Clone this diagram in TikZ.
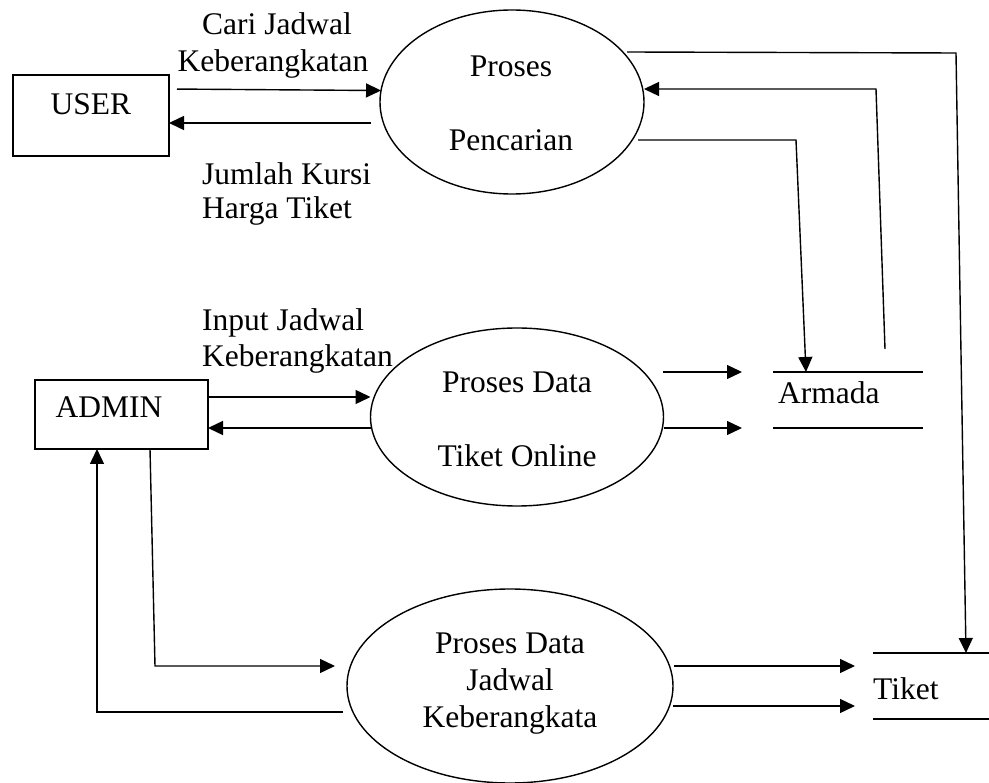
\documentclass[tikz,border=0pt]{standalone}
\usepackage{fontspec}
\setmainfont{Liberation Serif}
\usetikzlibrary{arrows.meta,shapes.geometric}
\begin{document}
\begin{tikzpicture}[x=1pt,y=-1pt,
  every node/.style={font=\fontsize{31.5}{37}\selectfont},
  ln/.style={line width=1.4pt},
  arr/.style={ln,-{Triangle[length=15pt,width=14pt]}},
  entity/.style={draw,line width=1.4pt,rectangle,inner sep=0pt,outer sep=0pt},
  proc/.style={draw,line width=1.4pt,ellipse,inner sep=0pt,outer sep=0pt},
  store/.style={rectangle,inner sep=0pt,outer sep=0pt},
  lbl/.style={inner sep=0pt,anchor=base},
  lblw/.style={inner sep=0pt,anchor=base west}]
\useasboundingbox (0,0) rectangle (989,783);

% external entities
\node[entity,minimum width=156pt,minimum height=81pt] (user) at (91,115.5) {};
\node[lbl] (usertxt) at (91,115) {USER};
\node[entity,minimum width=173pt,minimum height=69pt] (admin) at (121.5,414.5) {};
\node[lbl] (admintxt) at (109,418) {ADMIN};

% processes
\node[proc,minimum width=264pt,minimum height=184pt] (P) at (512,102) {};
\node[lbl] (p1) at (511,77) {Proses};
\node[lbl] (p2) at (511,151) {Pencarian};
\node[proc,minimum width=293pt,minimum height=178pt] (O) at (517,417) {};
\node[lbl] (o1) at (517,393) {Proses Data};
\node[lbl] (o2) at (517,467) {Tiket Online};
\node[proc,minimum width=326pt,minimum height=194pt] (J) at (510,686) {};
\node[lbl] (j1) at (510,653) {Proses Data};
\node[lbl] (j2) at (510,690) {Jadwal};
\node[lbl] (j3) at (510,727) {Keberangkata};

% data stores
\node[store,minimum width=150pt,minimum height=56pt] (armada) at (848,400) {};
\draw[ln] (armada.north west) -- (armada.north east) (armada.south west) -- (armada.south east);
\node[lblw] (armadatxt) at (778,404) {Armada};
\node[store,minimum width=116pt,minimum height=66pt] (tiket) at (931,686) {};
\draw[ln] (tiket.north west) -- (tiket.north east) (tiket.south west) -- (tiket.south east);
\node[lblw] (tikettxt) at (873,699) {Tiket};

% flow labels
\node[lbl] (la1) at (277,35) {Cari Jadwal};
\node[lbl] (la2) at (273,72) {Keberangkatan};
\node[lblw] (lb1) at (202,185) {Jumlah Kursi};
\node[lblw] (lb2) at (202,219) {Harga Tiket};
\node[lblw] (lc1) at (202,331) {Input Jadwal};
\node[lblw] (lc2) at (202,367) {Keberangkatan};

% flows
\draw[arr,shorten <=8pt] (user.east |- 0,89) -- (P.175);
\draw[arr] (371,123) -- (user.east |- 0,123);
\draw[arr] (627,52) -- (956,53) -- (966,0 |- tiket.north);
\draw[arr] (885,349) -- (876,89) -- (P.east |- 0,89);
\draw[arr] (638,140) -- (796,140) -- (806,0 |- armada.north);
\draw[arr] (663,372) -- (742,372);
\draw[arr] (O.east |- 0,428) -- (742,428);
\draw[arr] (admin.east |- 0,397) -- (O.west |- 0,397);
\draw[arr] (O.west |- 0,428) -- (admin.east |- 0,428);
\draw[arr] (150,0 |- admin.south) -- (155,666) -- (335,666);
\draw[arr] (343,712) -- (97,712) -- (97,0 |- admin.south);
\draw[arr] (674,666) -- (855,666);
\draw[arr] (J.east |- 0,706) -- (855,706);
\end{tikzpicture}
\end{document}
